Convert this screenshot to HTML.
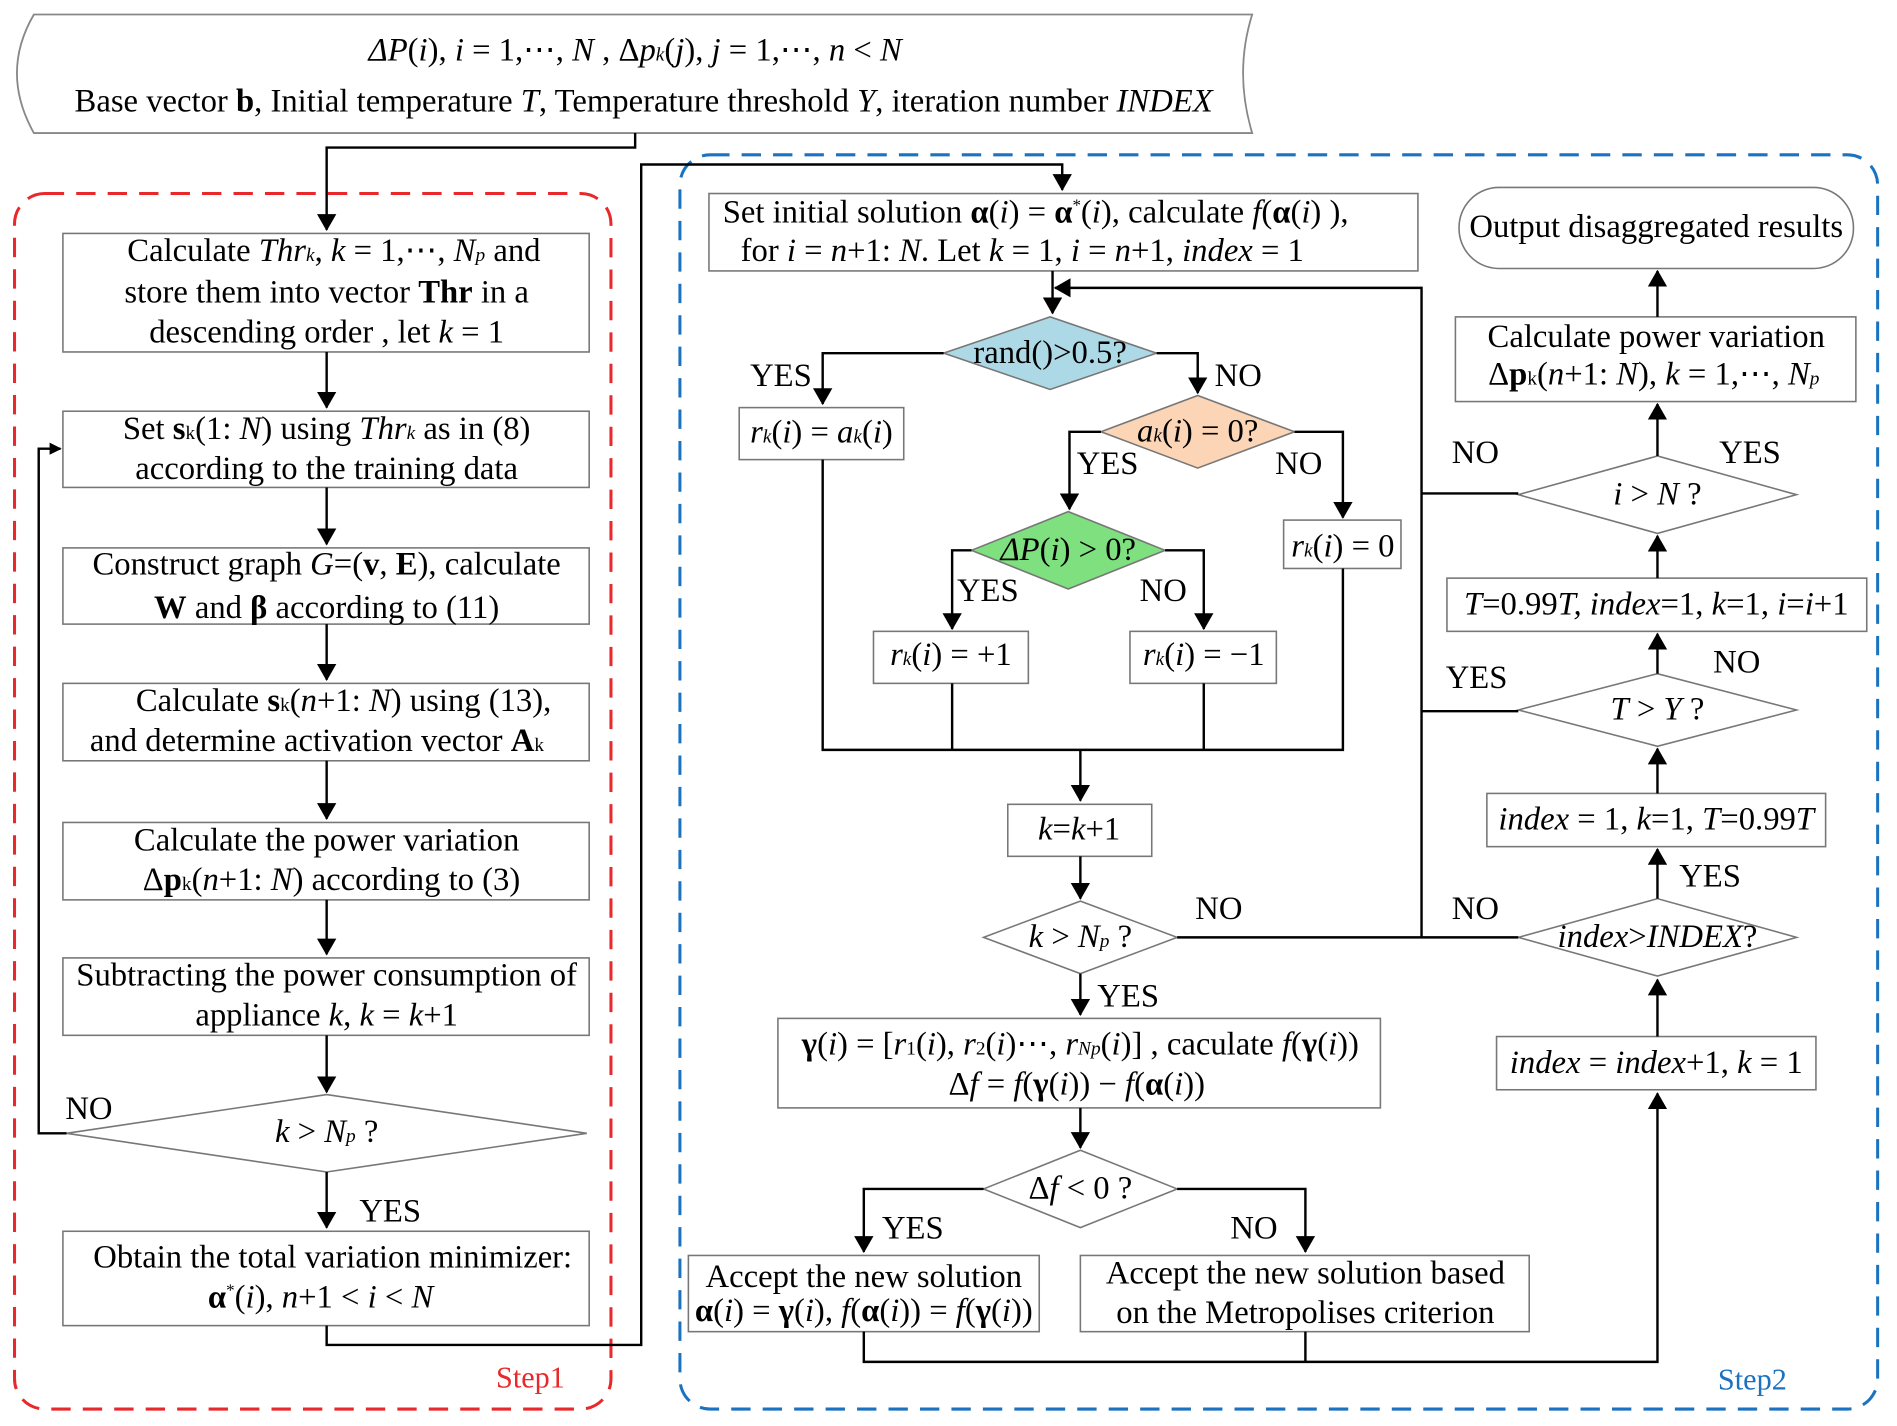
<!DOCTYPE html>
<html><head><meta charset="utf-8"><style>html,body{margin:0;padding:0;background:#fff}svg{display:block}
text{font-family:"Liberation Serif",serif;font-size:27px;fill:#000}
.i{font-style:italic}.b{font-weight:bold}
</style></head><body>
<svg width="1897" height="1426" viewBox="0 0 1568 1179" preserveAspectRatio="none" xmlns="http://www.w3.org/2000/svg">
<defs><marker id="a" markerWidth="10" markerHeight="10" refX="9" refY="5" orient="auto" markerUnits="userSpaceOnUse"><path d="M0,0 L10,5 L0,10 Z" fill="#000"/></marker>
<marker id="a2" markerWidth="14" markerHeight="16" refX="13" refY="8" orient="auto" markerUnits="userSpaceOnUse"><path d="M0,0 L14,8 L0,16 Z" fill="#000"/></marker></defs>
<g fill="none" stroke="#000" stroke-width="2">
<path d="M28,12 L1035,12 Q1020,60 1035,110 L28,110 Q0,60 28,12 Z" stroke="#888" stroke-width="1.5"/>
<rect x="12" y="160" width="493" height="1005" rx="25" stroke="#e8282b" stroke-width="2.5" stroke-dasharray="16,10"/>
<rect x="562" y="128" width="990" height="1037" rx="25" stroke="#1a72c0" stroke-width="2.5" stroke-dasharray="16,10"/>
</g>
<g fill="#fff" stroke="#777" stroke-width="1.3">
<rect x="52" y="193" width="435" height="98"/>
<rect x="52" y="340" width="435" height="63"/>
<rect x="52" y="453" width="435" height="63"/>
<rect x="52" y="565" width="435" height="64"/>
<rect x="52" y="680" width="435" height="64"/>
<rect x="52" y="792" width="435" height="64"/>
<polygon points="55,937 270,905 485,937 270,969"/>
<rect x="52" y="1018" width="435" height="78"/>
<rect x="586" y="160" width="586" height="64"/>
<polygon points="780,292 868,262 956,292 868,322" fill="#add8e6"/>
<rect x="611" y="337" width="136" height="43"/>
<polygon points="910,357 990,327 1070,357 990,387" fill="#fbd5b5"/>
<rect x="1061" y="430" width="97" height="40"/>
<polygon points="803,455 883,423 963,455 883,487" fill="#7ee07e"/>
<rect x="722" y="522" width="128" height="43"/>
<rect x="934" y="522" width="121" height="43"/>
<rect x="833" y="665" width="119" height="43"/>
<polygon points="813,775 893,745 973,775 893,805"/>
<rect x="643" y="842" width="498" height="74"/>
<polygon points="813,983 893,951 973,983 893,1015"/>
<rect x="569" y="1038" width="290" height="63"/>
<rect x="893" y="1038" width="371" height="63"/>
<rect x="1237" y="857" width="264" height="44"/>
<polygon points="1255,775 1370,743 1485,775 1370,807"/>
<rect x="1229" y="656" width="280" height="44"/>
<polygon points="1255,587 1370,557 1485,587 1370,617"/>
<rect x="1196" y="478" width="347" height="44"/>
<polygon points="1255,409 1370,377 1485,409 1370,441"/>
<rect x="1203" y="262" width="331" height="70"/>
<rect x="1206" y="155" width="326" height="67" rx="33"/>
</g>
<g fill="none" stroke="#000" stroke-width="2">
<path d="M525,110 V122 H270 V190" marker-end="url(#a2)"/>
<path d="M270,291 V337" marker-end="url(#a2)"/>
<path d="M270,403 V450" marker-end="url(#a2)"/>
<path d="M270,516 V562" marker-end="url(#a2)"/>
<path d="M270,629 V677" marker-end="url(#a2)"/>
<path d="M270,744 V789" marker-end="url(#a2)"/>
<path d="M270,856 V903" marker-end="url(#a2)"/>
<path d="M270,969 V1015" marker-end="url(#a2)"/>
<path d="M55,937 H32 V371 H50" marker-end="url(#a)"/>
<path d="M270,1096 V1112 H530 V136 H878 V157" marker-end="url(#a2)"/>
<path d="M870,224 V259" marker-end="url(#a2)"/>
<path d="M1175,775 V238 H872" marker-end="url(#a2)"/>
<path d="M1175,408 H1255 M1175,588 H1255 M973,775 H1255"/>
<path d="M780,292 H680 V334" marker-end="url(#a2)"/>
<path d="M956,292 H990 V325" marker-end="url(#a2)"/>
<path d="M910,357 H884 V421" marker-end="url(#a2)"/>
<path d="M1070,357 H1110 V428" marker-end="url(#a2)"/>
<path d="M803,455 H787 V520" marker-end="url(#a2)"/>
<path d="M963,455 H995 V520" marker-end="url(#a2)"/>
<path d="M680,380 V620 H1110 V470 M787,565 V620 M995,565 V620"/>
<path d="M893,620 V662" marker-end="url(#a2)"/>
<path d="M893,708 V743" marker-end="url(#a2)"/>
<path d="M893,805 V839" marker-end="url(#a2)"/>
<path d="M893,916 V949" marker-end="url(#a2)"/>
<path d="M813,983 H714 V1035" marker-end="url(#a2)"/>
<path d="M973,983 H1079 V1035" marker-end="url(#a2)"/>
<path d="M714,1101 V1126 H1370 V904" marker-end="url(#a2)"/>
<path d="M1079,1101 V1126"/>
<path d="M1370,857 V810" marker-end="url(#a2)"/>
<path d="M1370,743 V702" marker-end="url(#a2)"/>
<path d="M1370,656 V619" marker-end="url(#a2)"/>
<path d="M1370,557 V524" marker-end="url(#a2)"/>
<path d="M1370,478 V443" marker-end="url(#a2)"/>
<path d="M1370,377 V334" marker-end="url(#a2)"/>
<path d="M1370,262 V224" marker-end="url(#a2)"/>
</g>
<g text-anchor="middle">
<text x="525" y="50"><tspan class="i">ΔP</tspan>(<tspan class="i">i</tspan>), <tspan class="i">i</tspan> = 1,⋯, <tspan class="i">N</tspan>    ,   Δ<tspan class="i">p<tspan font-size="16">k</tspan></tspan>(<tspan class="i">j</tspan>), <tspan class="i">j</tspan> = 1,⋯, <tspan class="i">n</tspan> &lt; <tspan class="i">N</tspan></text>
<text x="532" y="92">Base vector <tspan class="b">b</tspan>, Initial temperature <tspan class="i">T</tspan>, Temperature threshold <tspan class="i">Y</tspan>, iteration number <tspan class="i">INDEX</tspan></text>
<text x="276" y="216">Calculate <tspan class="i">Thr<tspan font-size="16">k</tspan></tspan>, <tspan class="i">k</tspan> = 1,⋯, <tspan class="i">N<tspan font-size="16">p</tspan></tspan>   and</text>
<text x="270" y="250">store them into  vector <tspan class="b">Thr</tspan> in a</text>
<text x="270" y="283">descending order , let <tspan class="i">k</tspan> = 1</text>
<text x="270" y="363">Set <tspan class="b">s</tspan><tspan font-size="16">k</tspan>(1: <tspan class="i">N</tspan>) using <tspan class="i">Thr<tspan font-size="16">k</tspan></tspan> as in (8)</text>
<text x="270" y="396">according to the training data</text>
<text x="270" y="475">Construct graph <tspan class="i">G</tspan>=(<tspan class="b">v</tspan>, <tspan class="b">E</tspan>),  calculate</text>
<text x="270" y="511"><tspan class="b">W</tspan> and  <tspan class="b">β</tspan> according to (11)</text>
<text x="284" y="588">Calculate <tspan class="b">s</tspan><tspan font-size="16">k</tspan>(<tspan class="i">n</tspan>+1: <tspan class="i">N</tspan>)   using (13),</text>
<text x="262" y="621">and determine activation vector  <tspan class="b">A</tspan><tspan font-size="16">k</tspan></text>
<text x="270" y="703">Calculate the power variation</text>
<text x="274" y="736">Δ<tspan class="b">p</tspan><tspan font-size="16">k</tspan>(<tspan class="i">n</tspan>+1: <tspan class="i">N</tspan>) according to (3)</text>
<text x="270" y="815">Subtracting the power consumption of</text>
<text x="270" y="848">appliance <tspan class="i">k</tspan>,  <tspan class="i">k</tspan> = <tspan class="i">k</tspan>+1</text>
<text x="270" y="944"><tspan class="i">k</tspan> &gt; <tspan class="i">N<tspan font-size="16">p</tspan></tspan> ?</text>
<text x="275" y="1048">Obtain the total variation minimizer:</text>
<text x="265" y="1081"><tspan class="b">α</tspan><tspan font-size="14" dy="-10">*</tspan><tspan dy="10">(</tspan><tspan class="i">i</tspan>), <tspan class="i">n</tspan>+1 &lt; <tspan class="i">i</tspan> &lt; <tspan class="i">N</tspan></text>
<text x="856" y="184">Set initial solution <tspan class="b">α</tspan>(<tspan class="i">i</tspan>) = <tspan class="b">α</tspan><tspan font-size="14" dy="-10">*</tspan><tspan dy="10">(</tspan><tspan class="i">i</tspan>), calculate <tspan class="i">f</tspan>(<tspan class="b">α</tspan>(<tspan class="i">i</tspan>) ),</text>
<text x="845" y="216">for <tspan class="i">i</tspan> = <tspan class="i">n</tspan>+1: <tspan class="i">N</tspan>.  Let <tspan class="i">k</tspan> = 1, <tspan class="i">i</tspan> = <tspan class="i">n</tspan>+1, <tspan class="i">index</tspan> = 1</text>
<text x="868" y="300">rand()&gt;0.5?</text>
<text x="679" y="366"><tspan class="i">r<tspan font-size="16">k</tspan></tspan>(<tspan class="i">i</tspan>) = <tspan class="i">a<tspan font-size="16">k</tspan></tspan>(<tspan class="i">i</tspan>)</text>
<text x="990" y="365"><tspan class="i">a<tspan font-size="16">k</tspan></tspan>(<tspan class="i">i</tspan>) = 0?</text>
<text x="1110" y="460"><tspan class="i">r<tspan font-size="16">k</tspan></tspan>(<tspan class="i">i</tspan>) = 0</text>
<text x="883" y="463"><tspan class="i">ΔP</tspan>(<tspan class="i">i</tspan>) &gt; 0?</text>
<text x="786" y="550"><tspan class="i">r<tspan font-size="16">k</tspan></tspan>(<tspan class="i">i</tspan>) = +1</text>
<text x="995" y="550"><tspan class="i">r<tspan font-size="16">k</tspan></tspan>(<tspan class="i">i</tspan>) = −1</text>
<text x="892" y="694"><tspan class="i">k</tspan>=<tspan class="i">k</tspan>+1</text>
<text x="893" y="783"><tspan class="i">k</tspan> &gt; <tspan class="i">N<tspan font-size="16">p</tspan></tspan> ?</text>
<text x="893" y="872"><tspan class="b">γ</tspan>(<tspan class="i">i</tspan>) = [<tspan class="i">r</tspan><tspan font-size="16">1</tspan>(<tspan class="i">i</tspan>), <tspan class="i">r</tspan><tspan font-size="16">2</tspan>(<tspan class="i">i</tspan>)⋯, <tspan class="i">r<tspan font-size="16">Np</tspan></tspan>(<tspan class="i">i</tspan>)] , caculate  <tspan class="i">f</tspan>(<tspan class="b">γ</tspan>(<tspan class="i">i</tspan>))</text>
<text x="890" y="905">Δ<tspan class="i">f</tspan> = <tspan class="i">f</tspan>(<tspan class="b">γ</tspan>(<tspan class="i">i</tspan>)) − <tspan class="i">f</tspan>(<tspan class="b">α</tspan>(<tspan class="i">i</tspan>))</text>
<text x="893" y="991">Δ<tspan class="i">f</tspan> &lt; 0 ?</text>
<text x="714" y="1064">Accept the new solution</text>
<text x="714" y="1092" font-size="21"><tspan class="b">α</tspan>(<tspan class="i">i</tspan>) = <tspan class="b">γ</tspan>(<tspan class="i">i</tspan>), <tspan class="i">f</tspan>(<tspan class="b">α</tspan>(<tspan class="i">i</tspan>)) = <tspan class="i">f</tspan>(<tspan class="b">γ</tspan>(<tspan class="i">i</tspan>))</text>
<text x="1079" y="1061">Accept the new solution based</text>
<text x="1079" y="1094">on the Metropolises criterion</text>
<text x="1369" y="887"><tspan class="i">index</tspan> = <tspan class="i">index</tspan>+1,  <tspan class="i">k</tspan> = 1</text>
<text x="1370" y="783"><tspan class="i">index</tspan>&gt;<tspan class="i">INDEX</tspan>?</text>
<text x="1369" y="686"><tspan class="i">index</tspan> = 1, <tspan class="i">k</tspan>=1, <tspan class="i">T</tspan>=0.99<tspan class="i">T</tspan></text>
<text x="1370" y="595"><tspan class="i">T</tspan> &gt; <tspan class="i">Y</tspan> ?</text>
<text x="1369" y="508"><tspan class="i">T</tspan>=0.99<tspan class="i">T, index</tspan>=1, <tspan class="i">k</tspan>=1, <tspan class="i">i</tspan>=<tspan class="i">i</tspan>+1</text>
<text x="1370" y="417"><tspan class="i">i</tspan> &gt; <tspan class="i">N</tspan> ?</text>
<text x="1369" y="287">Calculate  power variation</text>
<text x="1367" y="318">Δ<tspan class="b">p</tspan><tspan font-size="16">k</tspan>(<tspan class="i">n</tspan>+1: <tspan class="i">N</tspan>), <tspan class="i">k</tspan> = 1,⋯, <tspan class="i">N<tspan font-size="16">p</tspan></tspan></text>
<text x="1369" y="196">Output disaggregated results</text>
</g>
<g>
<text x="54" y="925">NO</text><text x="297" y="1010">YES</text>
<text x="620" y="319">YES</text><text x="1004" y="319">NO</text>
<text x="890" y="392">YES</text><text x="1054" y="392">NO</text>
<text x="791" y="497">YES</text><text x="942" y="497">NO</text>
<text x="988" y="760">NO</text><text x="907" y="832">YES</text>
<text x="729" y="1024">YES</text><text x="1017" y="1024">NO</text>
<text x="1200" y="760">NO</text><text x="1388" y="733">YES</text>
<text x="1195" y="569">YES</text><text x="1416" y="556">NO</text>
<text x="1200" y="383">NO</text><text x="1421" y="383">YES</text>
<text x="410" y="1147" style="fill:#e8282b;font-size:25px">Step1</text>
<text x="1420" y="1149" style="fill:#1a72c0;font-size:25px">Step2</text>
</g>
</svg>
</body></html>
